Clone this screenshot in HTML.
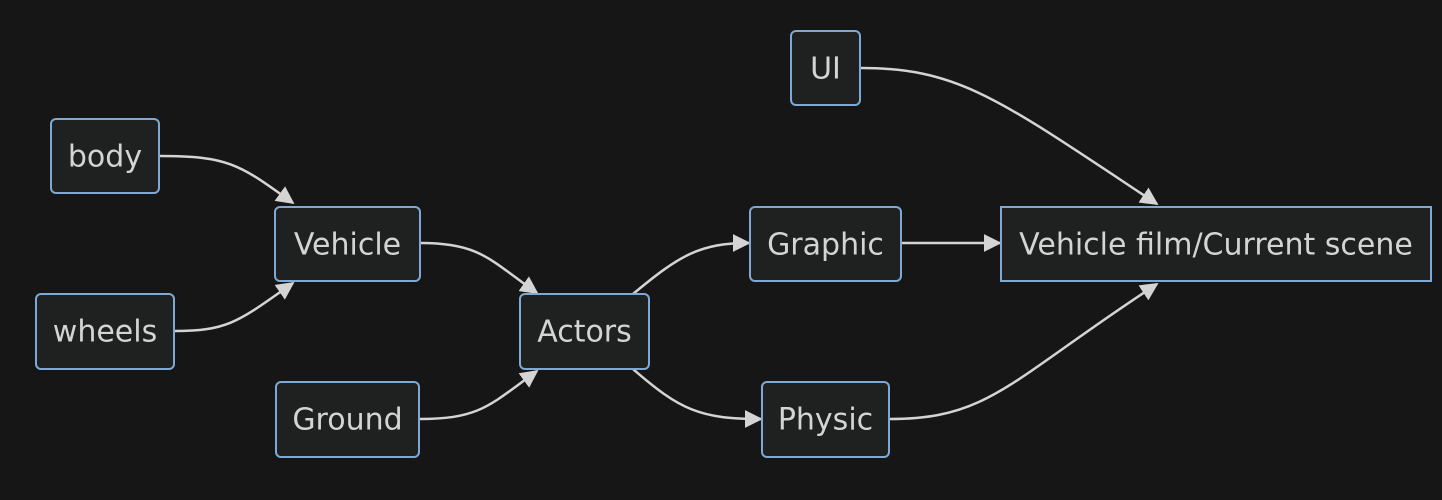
<!DOCTYPE html>
<html><head><style>
html,body{margin:0;padding:0;background:#161616;}
svg{display:block}
text{font-family:"DejaVu Sans","Liberation Sans",sans-serif;font-size:30px;fill:#d4d4d4;text-anchor:middle;dominant-baseline:central}
.n{fill:#1f2121;stroke:#7fa9d4;stroke-width:2}
.e{fill:none;stroke:#d4d4d4;stroke-width:2.5}
</style></head><body>
<svg width="1442" height="500" viewBox="0 0 1442 500">
<defs>
<marker id="b" viewBox="0 0 10 10" refX="9" refY="5" markerWidth="18" markerHeight="18" markerUnits="userSpaceOnUse" orient="auto"><path d="M0,0L10,5L0,10z" fill="#d4d4d4"/></marker></defs>
<path class="e" marker-end="url(#b)" d="M160,156 C230,156 240,165 293,203"/>
<path class="e" marker-end="url(#b)" d="M175,331 C230,331 240,320 293,283"/>
<path class="e" marker-end="url(#b)" d="M421,243 C480,243 490,260 537,293"/>
<path class="e" marker-end="url(#b)" d="M420,419 C480,419 490,405 537,371"/>
<path class="e" marker-end="url(#b)" d="M633,294 C680,255 700,243 749,243"/>
<path class="e" marker-end="url(#b)" d="M633,369 C680,410 700,419 761,419"/>
<path class="e" marker-end="url(#b)" d="M902,243 L1000,243"/>
<path class="e" marker-end="url(#b)" d="M861,68 C960,68 1000,100 1157,204"/>
<path class="e" marker-end="url(#b)" d="M890,419 C990,419 1010,380 1157,284"/>
<rect class="n" x="791" y="31" width="69" height="74" rx="5"/><text x="825.5" y="69">UI</text>
<rect class="n" x="51" y="119" width="108" height="74" rx="5"/><text x="105" y="157">body</text>
<rect class="n" x="275" y="207" width="145" height="74" rx="5"/><text x="347.5" y="245">Vehicle</text>
<rect class="n" x="36" y="294" width="138" height="75" rx="5"/><text x="105" y="332">wheels</text>
<rect class="n" x="276" y="382" width="143" height="75" rx="5"/><text x="347.5" y="420">Ground</text>
<rect class="n" x="520" y="294" width="129" height="75" rx="5"/><text x="584.5" y="332">Actors</text>
<rect class="n" x="750" y="207" width="151" height="74" rx="5"/><text x="825.5" y="245">Graphic</text>
<rect class="n" x="762" y="382" width="127" height="75" rx="5"/><text x="825.5" y="420">Physic</text>
<rect class="n" x="1001" y="207" width="430" height="74"/><text x="1216" y="245">Vehicle film/Current scene</text>
</svg>
</body></html>
